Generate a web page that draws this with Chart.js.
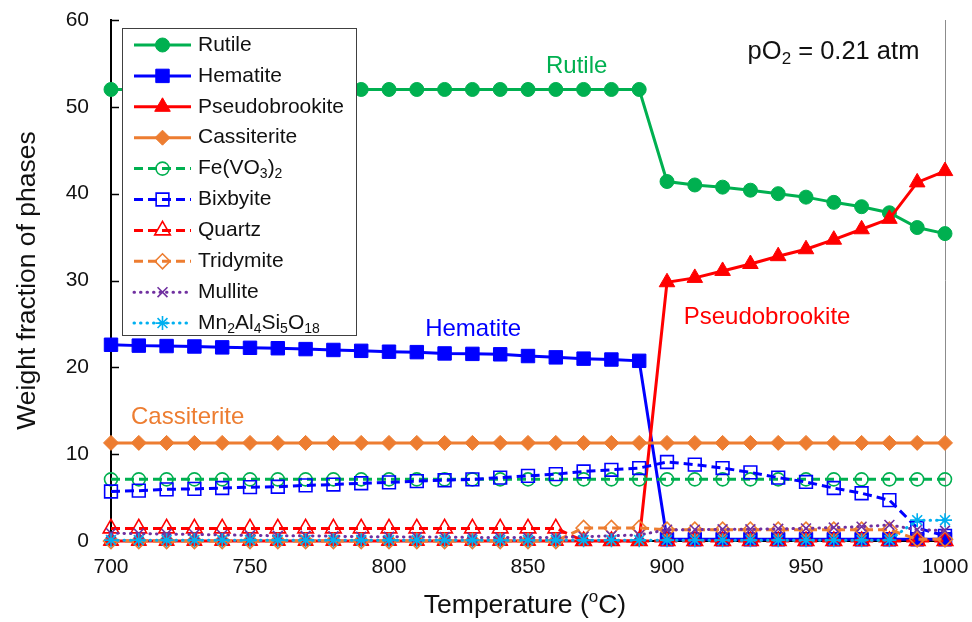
<!DOCTYPE html>
<html>
<head>
<meta charset="utf-8">
<script src="https://cdn.jsdelivr.net/npm/chart.js@4.4.1/dist/chart.umd.min.js"></script>
<style>
  html, body { margin: 0; padding: 0; background: #fff; }
  #obal { width: 972px; height: 622px; }
</style>
</head>
<body>
<div id="obal"><canvas id="graf" width="972" height="622"></canvas></div>
<script>
// Teploty (°C) – osa x
const teploty = [700, 710, 720, 730, 740, 750, 760, 770, 780, 790,
                 800, 810, 820, 830, 840, 850, 860, 870, 880, 890,
                 900, 910, 920, 930, 940, 950, 960, 970, 980, 990, 1000];

// Hmotnostní podíly fází
const rutil = [52, 52, 52, 52, 52, 52, 52, 52, 52, 52,
               52, 52, 52, 52, 52, 52, 52, 52, 52, 52,
               41.4, 41.0, 40.75, 40.4, 40.0, 39.6, 39.0, 38.5, 37.8, 36.1, 35.4];
const hematit = [22.6, 22.5, 22.45, 22.4, 22.3, 22.25, 22.2, 22.1, 22.0, 21.9,
                 21.8, 21.75, 21.6, 21.55, 21.5, 21.3, 21.15, 21.0, 20.9, 20.75,
                 0.2, 0.2, 0.2, 0.2, 0.2, 0.2, 0.2, 0.2, 0.2, 0.2, 0.2];
const pseudobrookit = [0, 0, 0, 0, 0, 0, 0, 0, 0, 0,
                       0, 0, 0, 0, 0, 0, 0, 0, 0, 0,
                       29.8, 30.3, 31.1, 31.9, 32.8, 33.6, 34.7, 35.9, 37.1, 41.3, 42.6];
const kasiterit = [11.3, 11.3, 11.3, 11.3, 11.3, 11.3, 11.3, 11.3, 11.3, 11.3,
                   11.3, 11.3, 11.3, 11.3, 11.3, 11.3, 11.3, 11.3, 11.3, 11.3,
                   11.3, 11.3, 11.3, 11.3, 11.3, 11.3, 11.3, 11.3, 11.3, 11.3, 11.3];
const feVO3 = [7.1, 7.1, 7.1, 7.1, 7.1, 7.1, 7.1, 7.1, 7.1, 7.1,
               7.1, 7.1, 7.1, 7.1, 7.1, 7.1, 7.1, 7.1, 7.1, 7.1,
               7.1, 7.1, 7.1, 7.1, 7.1, 7.1, 7.1, 7.1, 7.1, 7.1, 7.1];
const bixbyit = [5.7, 5.8, 5.95, 6.0, 6.1, 6.2, 6.25, 6.4, 6.5, 6.65,
                 6.75, 6.9, 7.0, 7.1, 7.3, 7.5, 7.7, 8.0, 8.2, 8.4,
                 9.1, 8.8, 8.4, 7.9, 7.3, 6.8, 6.1, 5.5, 4.7, 1.5, 0.6];
const kremen = [1.45, 1.45, 1.45, 1.45, 1.45, 1.45, 1.45, 1.45, 1.45, 1.45,
                1.45, 1.45, 1.45, 1.45, 1.45, 1.45, 1.45, 0, 0, 0,
                0, 0, 0, 0, 0, 0, 0, 0, 0, 0, 0];
const tridymit = [0, 0, 0, 0, 0, 0, 0, 0, 0, 0,
                  0, 0, 0, 0, 0, 0, 0, 1.5, 1.5, 1.5,
                  1.3, 1.3, 1.3, 1.3, 1.3, 1.3, 1.3, 1.3, 1.3, 0.2, 0.2];
const mullit = [0.9, 0.85, 0.8, 0.75, 0.7, 0.65, 0.6, 0.6, 0.55, 0.5,
                0.5, 0.45, 0.45, 0.4, 0.4, 0.4, 0.4, 0.5, 0.6, 0.7,
                1.3, 1.3, 1.35, 1.35, 1.4, 1.45, 1.55, 1.65, 1.85, 1.3, 1.2];
const mnAlSi = [0.1, 0.1, 0.1, 0.1, 0.1, 0.1, 0.1, 0.1, 0.1, 0.1,
                0.1, 0.1, 0.1, 0.1, 0.1, 0.1, 0.1, 0.1, 0.1, 0.1,
                0.1, 0.1, 0.1, 0.1, 0.1, 0.1, 0.1, 0.1, 0.1, 2.4, 2.4];

// Názvy fází (číslice se kreslí jako dolní index)
const nazvy = ['Rutile', 'Hematite', 'Pseudobrookite', 'Cassiterite', 'Fe(VO3)2',
               'Bixbyite', 'Quartz', 'Tridymite', 'Mullite', 'Mn2Al4Si5O18'];

// Osy
const xTicky = [700, 750, 800, 850, 900, 950, 1000];
const yTicky = [0, 10, 20, 30, 40, 50, 60];

// Popisky v grafu [text, x (°C), y (%)]
const popisky = [
  ['Rutile', 867.5, 54.7],
  ['Hematite', 813, 24.4],
  ['Pseudobrookite', 906, 25.8],
  ['Cassiterite', 707.2, 14.2]
];

const pismo = '"Liberation Sans", Arial, sans-serif';
const zelena = '#00B050', modra = '#0000FF', cervena = '#FF0000',
      oranzova = '#ED7D31', fialova = '#7030A0', azurova = '#00B0F0';
const pruhledna = 'rgba(0,0,0,0)';

function body(hodnoty) {
  return teploty.map((t, i) => ({ x: t, y: hodnoty[i] }));
}

// Vzhled jednotlivých řad
const styly = [
  { data: rutil, barva: zelena, tvar: 'circle', r: 7, plny: true, cara: [] },
  { data: hematit, barva: modra, tvar: 'rect', r: 9.5, plny: true, cara: [] },
  { data: pseudobrookit, barva: cervena, tvar: 'triangle', r: 9, plny: true, cara: [] },
  { data: kasiterit, barva: oranzova, tvar: 'rectRot', r: 7.5, plny: true, cara: [] },
  { data: feVO3, barva: zelena, tvar: 'circle', r: 6.5, plny: false, cara: [9, 5] },
  { data: bixbyit, barva: modra, tvar: 'rect', r: 9, plny: false, cara: [9, 5] },
  { data: kremen, barva: cervena, tvar: 'triangle', r: 9, plny: false, cara: [9, 5] },
  { data: tridymit, barva: oranzova, tvar: 'rectRot', r: 7.5, plny: false, cara: [9, 5] },
  { data: mullit, barva: fialova, tvar: 'crossRot', r: 7, plny: false, cara: [0.5, 6], tecky: true },
  { data: mnAlSi, barva: azurova, tvar: 'star', r: 7, plny: false, cara: [0.5, 6], tecky: true }
];

const datasety = styly.map((s, i) => ({
  label: nazvy[i],
  data: body(s.data),
  borderColor: s.barva,
  backgroundColor: s.plny ? s.barva : pruhledna,
  borderWidth: 3,
  borderDash: s.cara,
  borderCapStyle: s.tecky ? 'round' : 'butt',
  pointStyle: s.tvar,
  pointRadius: s.r,
  pointHoverRadius: s.r,
  pointBorderColor: s.barva,
  pointBackgroundColor: s.plny ? s.barva : pruhledna,
  pointBorderWidth: s.plny ? 1 : 1.6,
  tension: 0,
  fill: false,
  clip: false,
  order: styly.length - 1 - i   // poslední řada navrchu (jako v Excelu)
}));

// Text s dolními/horními indexy
function kresliText(ctx, casti, x, y, vel, barva, zarovnani) {
  const fN = vel + 'px ' + pismo;
  const fM = Math.round(vel * 0.65) + 'px ' + pismo;
  let sirka = 0;
  casti.forEach(([t, typ]) => { ctx.font = typ ? fM : fN; sirka += ctx.measureText(t).width; });
  let cx = zarovnani === 'center' ? x - sirka / 2 : x;
  ctx.fillStyle = barva;
  ctx.textAlign = 'left';
  ctx.textBaseline = 'middle';
  casti.forEach(([t, typ]) => {
    ctx.font = typ ? fM : fN;
    const dy = typ === 'sub' ? vel * 0.28 : (typ === 'sup' ? -vel * 0.32 : 0);
    ctx.fillText(t, cx, y + dy);
    cx += ctx.measureText(t).width;
  });
}
function vzorec(s) {
  return s.split(/(\d+)/).filter(Boolean).map(p => /^\d+$/.test(p) ? [p, 'sub'] : [p, '']);
}

// Vnitřní značky os, pravý okraj, legenda, popisky
const doplnky = {
  id: 'doplnky',
  beforeDatasetsDraw(chart) {
    const { ctx, chartArea: a, scales: { x, y } } = chart;
    ctx.save();
    ctx.strokeStyle = '#8c8c8c';
    ctx.lineWidth = 1;
    ctx.beginPath();
    ctx.moveTo(a.right + 0.5, a.top);
    ctx.lineTo(a.right + 0.5, a.bottom);
    ctx.stroke();
    ctx.strokeStyle = '#000';
    ctx.lineWidth = 1.5;
    ctx.beginPath();
    yTicky.forEach(v => {
      const py = Math.round(y.getPixelForValue(v)) + 0.5;
      ctx.moveTo(a.left, py); ctx.lineTo(a.left + 8, py);
    });
    xTicky.forEach(v => {
      const px = Math.round(x.getPixelForValue(v)) + 0.5;
      ctx.moveTo(px, a.bottom); ctx.lineTo(px, a.bottom - 8);
    });
    ctx.stroke();
    ctx.restore();
  },
  afterDatasetsDraw(chart) {
    const { ctx, scales: { x, y } } = chart;
    ctx.save();
    // legenda
    const lx = 122, ly = 28, lw = 234, lh = 307, krok = 30.9;
    ctx.fillStyle = '#fff';
    ctx.fillRect(lx, ly, lw, lh);
    ctx.strokeStyle = '#404040';
    ctx.lineWidth = 1;
    ctx.strokeRect(lx + 0.5, ly + 0.5, lw, lh);
    chart.data.datasets.forEach((ds, i) => {
      const py = 45 + i * krok;
      ctx.strokeStyle = ds.borderColor;
      ctx.lineWidth = ds.borderWidth;
      ctx.lineCap = ds.borderCapStyle;
      ctx.setLineDash(ds.borderDash);
      ctx.beginPath();
      ctx.moveTo(134, py); ctx.lineTo(191, py);
      ctx.stroke();
      ctx.setLineDash([]);
      ctx.lineCap = 'butt';
      ctx.fillStyle = ds.pointBackgroundColor;
      ctx.strokeStyle = ds.pointBorderColor;
      ctx.lineWidth = ds.pointBorderWidth;
      Chart.helpers.drawPoint(ctx, { pointStyle: ds.pointStyle, radius: ds.pointRadius, rotation: 0, borderWidth: ds.pointBorderWidth }, 162.5, py);
      kresliText(ctx, vzorec(ds.label), 198, py, 21, '#111', 'left');
    });
    // popisky řad
    const barvyPopisku = [zelena, modra, cervena, oranzova];
    popisky.forEach(([t, vx, vy], i) => {
      kresliText(ctx, [[t, '']], x.getPixelForValue(vx), y.getPixelForValue(vy), 24,
                 barvyPopisku[i], i === 0 ? 'center' : 'left');
    });
    kresliText(ctx, [['pO', ''], ['2', 'sub'], [' = 0.21 atm', '']],
               x.getPixelForValue(929), y.getPixelForValue(56.3), 25.5, '#111', 'left');
    ctx.restore();
  },
  afterDraw(chart) {
    const { ctx, chartArea: a } = chart;
    ctx.save();
    kresliText(ctx, [['Temperature (', ''], ['o', 'sup'], ['C)', '']],
               (a.left + a.right) / 2 - 3, 606, 26.5, '#111', 'center');
    ctx.restore();
  }
};

Chart.defaults.font.family = pismo;
Chart.defaults.color = '#111';

new Chart(document.getElementById('graf').getContext('2d'), {
  type: 'line',
  data: { datasets: datasety },
  options: {
    responsive: false,
    animation: false,
    devicePixelRatio: 1,
    layout: { padding: { top: 20, right: 27, left: 0, bottom: 0 } },
    plugins: { legend: { display: false }, tooltip: { enabled: false } },
    scales: {
      x: {
        type: 'linear',
        min: 700,
        max: 1000,
        afterBuildTicks: s => { s.ticks = xTicky.map(v => ({ value: v })); },
        ticks: { font: { size: 21 }, color: '#111', padding: 14, maxRotation: 0, callback: v => String(v) },
        grid: { display: false, drawTicks: false },
        border: { display: true, color: '#000', width: 2 },
        afterFit: s => { s.height = 81; s.paddingLeft = 0; s.paddingRight = 0; }
      },
      y: {
        min: 0,
        max: 60,
        afterBuildTicks: s => { s.ticks = yTicky.map(v => ({ value: v })); },
        ticks: { font: { size: 21 }, color: '#111', padding: 22, callback: v => String(v) },
        grid: { display: false, drawTicks: false },
        border: { display: true, color: '#000', width: 2 },
        title: { display: true, text: 'Weight fraction of phases', font: { size: 26.5 }, color: '#111', padding: { top: 12, bottom: 0 } },
        afterFit: s => { s.width = 111; s.paddingTop = 0; s.paddingBottom = 0; }
      }
    }
  },
  plugins: [doplnky]
});
</script>
</body>
</html>
